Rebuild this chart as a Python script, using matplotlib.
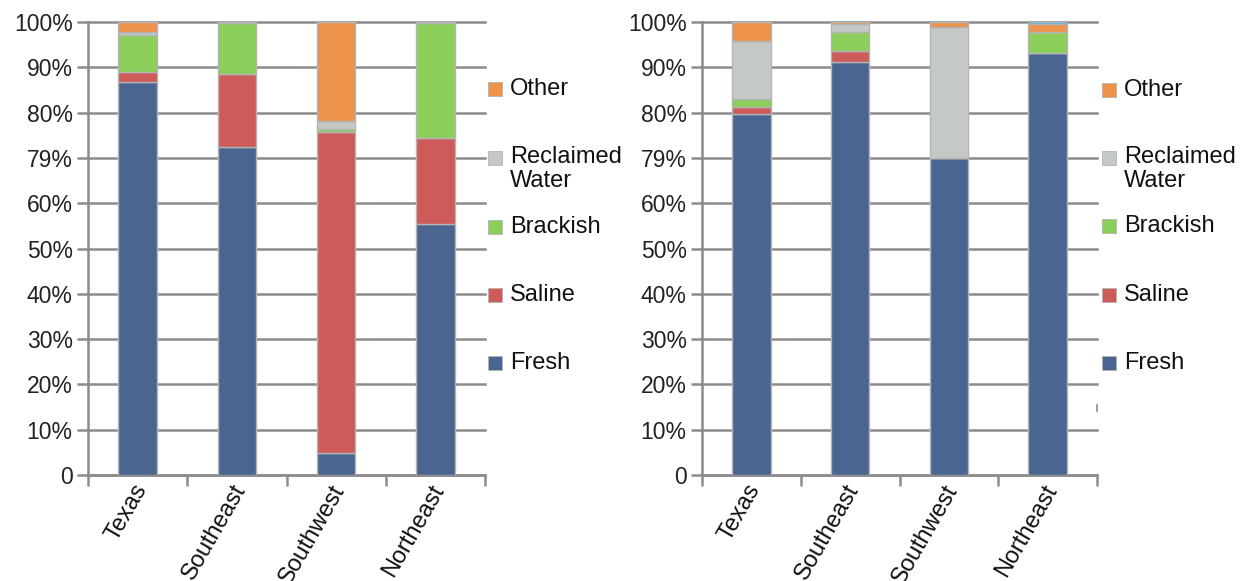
import matplotlib
matplotlib.use("Agg")
import matplotlib.pyplot as plt
from matplotlib.patches import Rectangle
from matplotlib.lines import Line2D
import matplotlib.transforms as mtransforms
import numpy as np

plt.rcParams['font.family'] = ['Liberation Sans', 'DejaVu Sans']

categories = ["Texas", "Southeast", "Southwest", "Northeast"]
series_names = ["Fresh", "Saline", "Brackish", "Reclaimed Water", "Other"]
colors = ["#4A6690", "#CD5B5A", "#8BCF5A", "#C5C9C5", "#EE934C"]
extra_color = "#6FB5E0"

# Left chart (percent)
left_fresh = [86.8, 72.5, 4.9, 55.4]
left_saline = [2.2, 16.0, 70.8, 19.0]
left_brackish = [8.1, 11.2, 0.6, 25.3]
left_reclaimed = [0.6, 0.3, 1.8, 0.3]
left_other = [2.3, 0.0, 21.9, 0.0]
left_extra = [0.0, 0.0, 0.0, 0.0]

# Right chart (percent)
right_fresh = [79.6, 91.2, 70.0, 93.1]
right_saline = [1.6, 2.4, 0.0, 0.0]
right_brackish = [1.8, 4.3, 0.0, 4.6]
right_reclaimed = [12.9, 1.7, 29.0, 0.0]
right_other = [4.1, 0.4, 1.0, 1.9]
right_extra = [0.0, 0.0, 0.0, 0.4]

ytick_vals = [0, 10, 20, 30, 40, 50, 60, 70, 80, 90, 100]
ytick_labels = ["0", "10%", "20%", "30%", "40%", "50%", "60%", "79%", "80%", "90%", "100%"]

W, H = 1241, 581
fig = plt.figure(figsize=(W / 100, H / 100), dpi=100)

grid_color = "#8C8C8C"
FS_Y = 16.5
FS_X = 17
FS_L = 17


def make_axes(rect, data, extra):
    ax = fig.add_axes(rect)
    x = np.arange(len(categories))
    bottom = np.zeros(len(categories))
    for vals, c in zip(data, colors):
        ax.bar(x, vals, width=0.39, bottom=bottom, color=c, edgecolor="#B4B4B4",
               linewidth=1.0, zorder=3)
        bottom += np.array(vals)
    ax.bar(x, extra, width=0.39, bottom=bottom, color=extra_color, edgecolor="#B4B4B4",
           linewidth=0.6, zorder=3)
    ax.set_xlim(-0.5, 3.5)
    ax.set_ylim(0, 100)
    ax.set_yticks(ytick_vals)
    ax.set_yticklabels(ytick_labels, fontsize=FS_Y, color="#222222")
    ax.yaxis.grid(True, color=grid_color, linewidth=1.8, zorder=0)
    for gl in ax.get_ygridlines():
        gl.set_clip_on(False)
    ax.set_axisbelow(True)
    for s in ["top", "right"]:
        ax.spines[s].set_visible(False)
    for s in ["left", "bottom"]:
        ax.spines[s].set_color(grid_color)
        ax.spines[s].set_linewidth(1.8)
    ax.tick_params(axis="y", length=8, width=1.8, color=grid_color, pad=3)
    ax.set_xticks(x)
    ax.set_xticklabels(categories, fontsize=FS_X, rotation=60, ha="right",
                       va="center", rotation_mode="anchor", color="#111111")
    ax.tick_params(axis="x", which="major", length=0, pad=8)
    offset = mtransforms.ScaledTranslation(4 / 100, 0, fig.dpi_scale_trans)
    for lbl in ax.get_xticklabels():
        lbl.set_transform(lbl.get_transform() + offset)
    ax.set_xticks(np.arange(-0.5, 4.0, 1.0), minor=True)
    ax.tick_params(axis="x", which="minor", length=8, width=1.8, color=grid_color)
    return ax


def px_rect(x0, x1, ytop, ybot):
    return [x0 / W, 1 - ybot / H, (x1 - x0) / W, (ybot - ytop) / H]


ax1 = make_axes(px_rect(88, 485, 22, 475),
                [left_fresh, left_saline, left_brackish, left_reclaimed, left_other], left_extra)
ax2 = make_axes(px_rect(702, 1097, 22, 475),
                [right_fresh, right_saline, right_brackish, right_reclaimed, right_other], right_extra)


def legend(xsq, xtxt, ys):
    entries = [("Other", colors[4], ys[0]), ("Reclaimed\nWater", colors[3], ys[1]),
               ("Brackish", colors[2], ys[2]), ("Saline", colors[1], ys[3]),
               ("Fresh", colors[0], ys[4])]
    for i, (label, c, y) in enumerate(entries):
        sq = 14
        ysq = y + 12 if i == 1 else y
        fig.add_artist(Rectangle((xsq / W, 1 - (ysq + sq / 2) / H), sq / W, sq / H,
                                 transform=fig.transFigure, facecolor=c,
                                 edgecolor="#B4B4B4", linewidth=0.6))
        fig.text(xtxt / W, 1 - y / H, label, fontsize=FS_L, va="top" if "\n" in label else "center",
                 ha="left", color="#111111", linespacing=1.1)


legend(488, 510, [89, 146, 227, 295, 363])
legend(1102, 1124, [90, 146, 226, 295, 363])

fig.add_artist(Line2D([1097 / W, 1097 / W], [1 - 405 / H, 1 - 411 / H],
                      transform=fig.transFigure, color=grid_color, linewidth=1.2))

fig.savefig("out.png", dpi=100)
